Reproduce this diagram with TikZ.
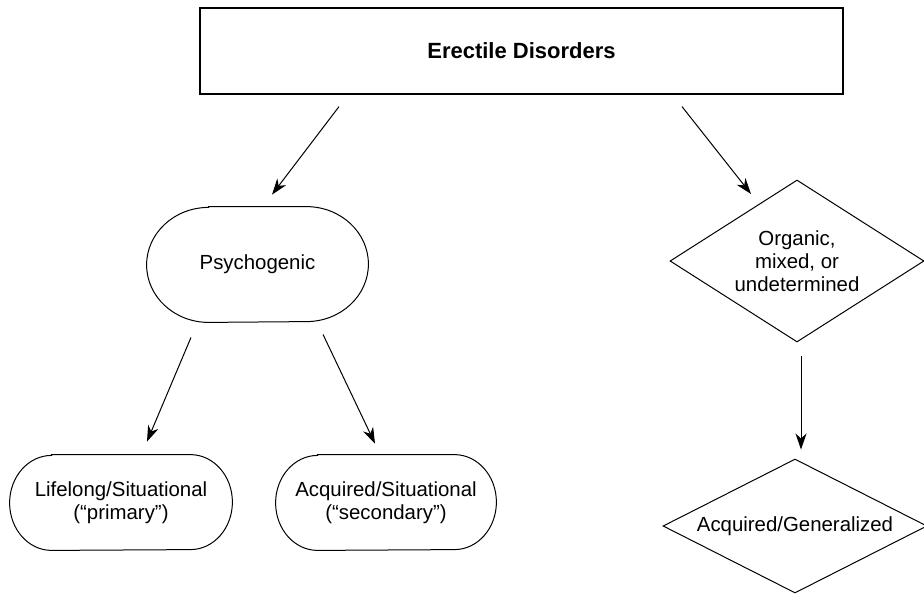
\documentclass[tikz,border=0pt]{standalone}
\usepackage{fontspec}
\setmainfont{Liberation Sans}
\usetikzlibrary{positioning,arrows.meta,calc,shapes.geometric}

\tikzset{
  titlebox/.style={draw, line width=0.6pt, minimum width=321.5pt, minimum height=43pt,
    font=\bfseries\fontsize{11}{13}\selectfont},
  oval/.style={align=center, inner sep=0pt},
  decision/.style={draw, diamond, align=center, inner sep=0pt, line width=0.5pt},
  flow/.style={-{Stealth[length=8pt,width=5.5pt,inset=2.5pt]}, line width=0.5pt}
}
% outline with elliptic ends round a named node: node, x radius, y radius
\newcommand{\ovalframe}[3]{%
  \draw[line width=0.5pt] ($(#1.north west)+(#2,0)$) -- ($(#1.north east)+(-#2,0)$)
    arc[start angle=90, end angle=-90, x radius=#2*0.5pt, y radius=#3*0.5pt]
    -- ($(#1.south west)+(#2,0)$)
    arc[start angle=270, end angle=90, x radius=#2*0.5pt, y radius=#3*0.5pt] -- cycle;}

\begin{document}
\begin{tikzpicture}[x=0.5pt, y=0.5pt, font=\fontsize{10.2}{11.5}\selectfont]
  \useasboundingbox (0,0) rectangle (924,-594);

  % Top of the tree
  \node[titlebox] (erectile) at (521.5,-51) {Erectile Disorders};

  % Psychogenic branch
  \node[oval, minimum width=110.5pt, minimum height=57.5pt] (psycho) at (257.5,-264.5) {Psychogenic};
  \node[oval, minimum width=111pt, minimum height=47.5pt] (lifelong) at (121,-502.5) {Lifelong/Situational\\(“primary”)};
  \node[oval, minimum width=110pt, minimum height=47.5pt] (acqsit) at (386,-502.5) {Acquired/Situational\\(“secondary”)};
  \ovalframe{psycho}{62}{57.5}
  \ovalframe{lifelong}{42}{47.5}
  \ovalframe{acqsit}{42}{47.5}

  % Organic branch
  \node[decision, aspect=1.57, minimum width=127pt, minimum height=81pt] (organic) at (797,-261) {Organic,\\mixed, or\\undetermined};
  \node[decision, aspect=1.97, minimum width=132pt, minimum height=67pt] (general) at (795,-526) {Acquired/Generalized};

  % Arrows
  \draw[flow] ([shift={(-182.5,-12)}]erectile.south) -- ([shift={(14.5,12)}]psycho.north);
  \draw[flow] ([shift={(160.5,-12)}]erectile.south) -- ([shift={(-46,-14.5)}]organic.north);
  \draw[flow] ([shift={(4,-13.5)}]organic.south) -- ([shift={(6,9)}]general.north);
  \draw[flow] ([shift={(-66.5,-15)}]psycho.south) -- ([shift={(26,13)}]lifelong.north);
  \draw[flow] ([shift={(65.5,-12)}]psycho.south) -- ([shift={(-11,11)}]acqsit.north);
\end{tikzpicture}
\end{document}
